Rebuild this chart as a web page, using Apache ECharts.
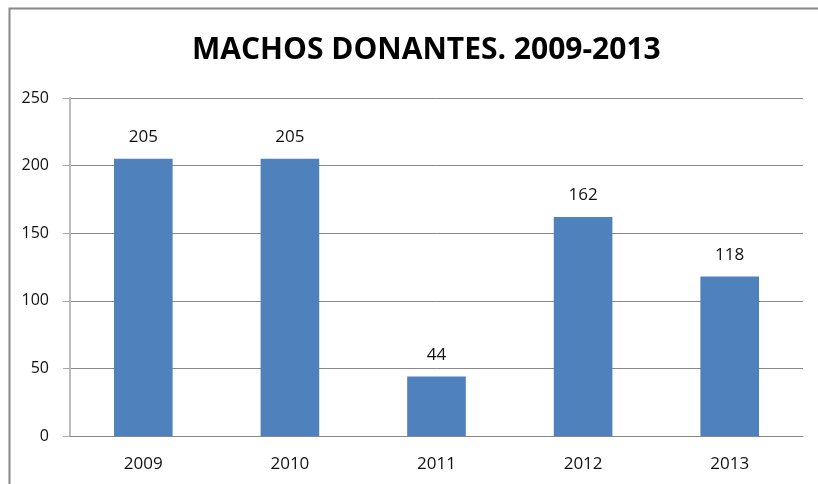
<!DOCTYPE html>
<html>
<head>
<meta charset="utf-8">
<script src="https://cdn.jsdelivr.net/npm/echarts@6/dist/echarts.min.js"></script>
<style>
  html, body { margin: 0; padding: 0; background: #fff; }
  #chart { width: 818px; height: 484px; }
</style>
</head>
<body>
<div id="chart"></div>
<script>
const years = ['2009', '2010', '2011', '2012', '2013']
const donors = [205, 205, 44, 162, 118]
const yTicks = { min: 0, max: 250, interval: 50 }

const chart = echarts.init(document.getElementById('chart'))
chart.setOption({
  animation: false,
  textStyle: { fontFamily: 'Open Sans' },
  title: {
    text: 'MACHOS DONANTES. 2009-2013',
    left: 187,
    top: 30,
    textStyle: {
      fontFamily: 'Open Sans',
      fontWeight: 'bold',
      fontSize: 30,
      color: '#000'
    }
  },
  graphic: [{
    type: 'polyline',
    shape: { points: [[9.5, 490], [9.5, 8.5], [830, 8.5]] },
    style: { stroke: '#888', lineWidth: 2, fill: null }
  }],
  grid: { left: 70, right: 15, top: 98, bottom: 48 },
  xAxis: {
    type: 'category',
    data: years,
    axisLine: { lineStyle: { color: '#888' } },
    axisTick: { show: false },
    axisLabel: { color: '#111', fontSize: 17, margin: 20 }
  },
  yAxis: {
    type: 'value',
    min: yTicks.min,
    max: yTicks.max,
    interval: yTicks.interval,
    axisLine: { show: true, lineStyle: { color: '#bbb', width: 2 } },
    axisTick: { show: true, length: 7, lineStyle: { color: '#aaa' } },
    axisLabel: { color: '#111', fontSize: 16, margin: 21 },
    splitLine: { lineStyle: { color: '#888' } }
  },
  series: [{
    type: 'bar',
    data: donors,
    barWidth: '40%',
    itemStyle: { color: '#4f81bd' },
    label: {
      show: true,
      position: 'top',
      distance: 13,
      color: '#111',
      fontSize: 17
    }
  }]
})
</script>
</body>
</html>
